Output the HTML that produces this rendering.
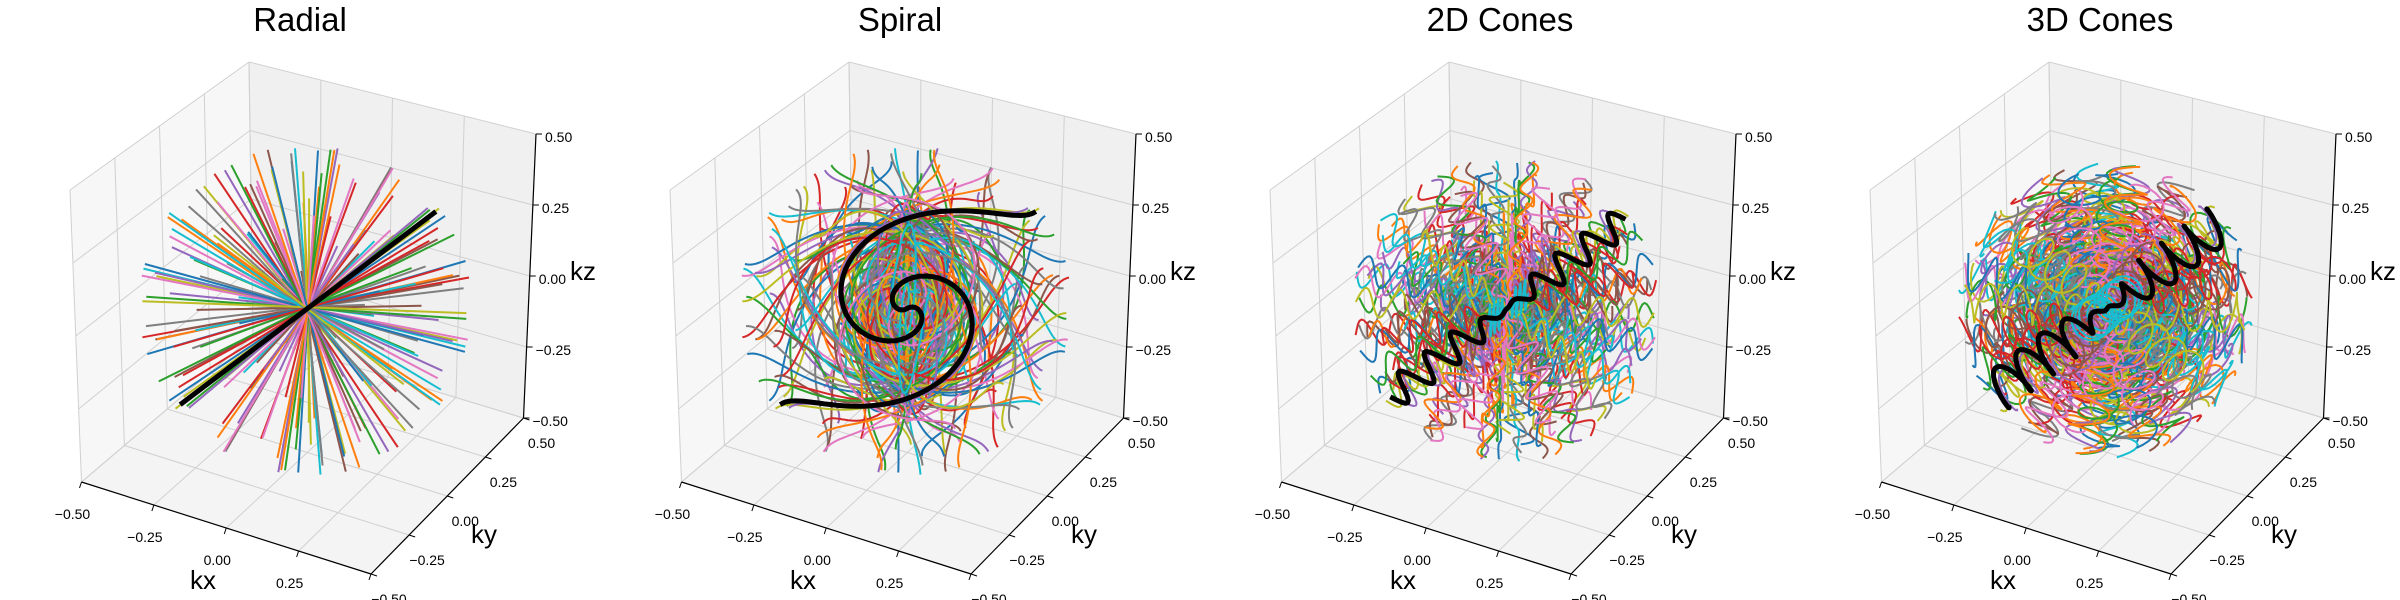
<!DOCTYPE html>
<html>
<head>
<meta charset="utf-8">
<style>
  html,body{margin:0;padding:0;background:#fff;}
  #chart{display:block;width:2400px;height:600px;overflow:hidden;}
  .title{font-family:"Liberation Sans",sans-serif;font-size:33px;fill:#000;text-anchor:middle;}
  .axlab{font-family:"Liberation Sans",sans-serif;font-size:26px;fill:#000;}
  .tick{font-family:"Liberation Sans",sans-serif;font-size:14px;fill:#000;}
</style>
</head>
<body>
<svg id="chart" xmlns="http://www.w3.org/2000/svg" width="2400" height="600" viewBox="0 0 2400 600">
  <g id="panel-0" transform="translate(0,0)">
    <g class="frame"></g><g class="marks"></g><g class="ticks"></g>
    <text class="title" x="300" y="31">Radial</text>
    <text class="axlab" x="190" y="589">kx</text>
    <text class="axlab" x="471" y="543">ky</text>
    <text class="axlab" x="570" y="280">kz</text>
  </g>
  <g id="panel-1" transform="translate(600,0)">
    <g class="frame"></g><g class="marks"></g><g class="ticks"></g>
    <text class="title" x="300" y="31">Spiral</text>
    <text class="axlab" x="190" y="589">kx</text>
    <text class="axlab" x="471" y="543">ky</text>
    <text class="axlab" x="570" y="280">kz</text>
  </g>
  <g id="panel-2" transform="translate(1200,0)">
    <g class="frame"></g><g class="marks"></g><g class="ticks"></g>
    <text class="title" x="300" y="31">2D Cones</text>
    <text class="axlab" x="190" y="589">kx</text>
    <text class="axlab" x="471" y="543">ky</text>
    <text class="axlab" x="570" y="280">kz</text>
  </g>
  <g id="panel-3" transform="translate(1800,0)">
    <g class="frame"></g><g class="marks"></g><g class="ticks"></g>
    <text class="title" x="300" y="31">3D Cones</text>
    <text class="axlab" x="190" y="589">kx</text>
    <text class="axlab" x="471" y="543">ky</text>
    <text class="axlab" x="570" y="280">kz</text>
  </g>
</svg>
<script>
// ---- data ----
const AZIMUTH_DEG = [0,137,275,52,190,328,105,242,20,157,295,72,210,347,125,262,40,177,315,92,230,7,145,282,60,197,335,112,250,27,165,302,80,217,355,132,270,47,185,322,100,237,15,152,290,67,205,342,120,257,35,172,310,87,225,2,140,277,55,192,330,107,245,22,160,297,75,212,350,127,265,42,180,317,95,232,10,147,285,62,200,337,115,252,30,167,305,82,220,357,135,272,50,187,325,102,240,17,155,292];
const ELEVATION_DEG = [-84,-76,-71,-67,-63,-60,-57,-54,-52,-49,-47,-45,-43,-41,-39,-37,-35,-33,-31,-30,-28,-26,-25,-23,-21,-20,-18,-17,-15,-14,-12,-11,-9,-8,-6,-5,-3,-2,-1,0,1,2,4,5,7,8,10,11,13,14,16,17,19,20,22,24,25,27,29,31,32,34,36,38,40,42,44,46,48,51,53,56,59,62,65,69,73,78,85,-36,12,-58,27,-5,44,-22,63,-40,8,-15,33,-70,19,-28,50,-9,70,-48,3,24];
const HIGHLIGHT_DIR = [0.64, 0.44, 0.64];
const KMAX = [0.5];
const TICK_VALUES = [-0.5,-0.25,0,0.25,0.5];
const TICK_LABELS = ['\u22120.50','\u22120.25','0.00','0.25','0.50'];
const COLORS = ['#1f77b4','#ff7f0e','#2ca02c','#d62728','#9467bd','#8c564b','#e377c2','#7f7f7f','#bcbd22','#17becf'];

// ---- projection (trilinear from box corners, panel-local px) ----
const P = {
  '000':[81.5,482],'100':[371,574],'110':[523.5,418],'010':[253,336],
  '001':[70,190],'101':[373,272],'111':[536,134],'011':[249,62]
};
function proj(x,y,z){
  const fx=x+0.5, fy=y+0.5, fz=z+0.5;
  let r=[0,0];
  for(const i of [0,1]) for(const j of [0,1]) for(const k of [0,1]){
    const w=(i?fx:1-fx)*(j?fy:1-fy)*(k?fz:1-fz);
    const c=P[''+i+j+k];
    r[0]+=w*c[0]; r[1]+=w*c[1];
  }
  return r;
}
const NS='http://www.w3.org/2000/svg';
function mk(tag,attrs,parent){
  const e=document.createElementNS(NS,tag);
  for(const k in attrs) e.setAttribute(k,attrs[k]);
  parent.appendChild(e); return e;
}
function ptsStr(pts){return pts.map(p=>{const q=proj(p[0],p[1],p[2]);return q[0].toFixed(1)+','+q[1].toFixed(1);}).join(' ');}
function norm(v){const l=Math.hypot(v[0],v[1],v[2])||1;return [v[0]/l,v[1]/l,v[2]/l];}
function cross(a,b){return [a[1]*b[2]-a[2]*b[1],a[2]*b[0]-a[0]*b[2],a[0]*b[1]-a[1]*b[0]];}
function basis(d){
  let w=[-d[2]*d[0],-d[2]*d[1],1-d[2]*d[2]];
  if(Math.hypot(w[0],w[1],w[2])<0.15) w=[1-d[0]*d[0],-d[0]*d[1],-d[0]*d[2]];
  w=norm(w);
  return [w, norm(cross(d,w))];
}
function dirOf(i){
  const a=AZIMUTH_DEG[i]*Math.PI/180, e=ELEVATION_DEG[i]*Math.PI/180;
  return [Math.cos(e)*Math.cos(a), Math.cos(e)*Math.sin(a), Math.sin(e)];
}

// trajectory generators: t in [-1,1]
function trajectory(kind,d,N){
  const [w1,w2]=basis(d); const R=KMAX[0]; const pts=[];
  for(let n=0;n<=N;n++){
    const t=-1+2*n/N, s=Math.abs(t), sg=t<0?-1:1;
    let p;
    if(kind==='radial'){ p=[d[0]*R*t,d[1]*R*t,d[2]*R*t]; }
    else if(kind==='spiral'){
      const r=R*s, ph=2*Math.PI*(1-s)*(1-s);
      const c=Math.cos(ph)*r*sg, sn=Math.sin(ph)*r*sg;
      p=[d[0]*c+w1[0]*sn, d[1]*c+w1[1]*sn, d[2]*c+w1[2]*sn];
    }
    else if(kind==='cones2d'){
      const A=0.05*Math.min(1,s*3)*Math.sin(2*Math.PI*4.5*t);
      p=[d[0]*R*t*0.92+w1[0]*A, d[1]*R*t*0.92+w1[1]*A, d[2]*R*t*0.92+w1[2]*A];
    }
    else {
      const A=0.06*Math.min(1,s*3), ps=2*Math.PI*5*s;
      const a=A*Math.cos(ps)*sg, b=A*Math.sin(ps)*sg;
      p=[d[0]*R*t*0.88+w1[0]*a+w2[0]*b, d[1]*R*t*0.88+w1[1]*a+w2[1]*b, d[2]*R*t*0.88+w1[2]*a+w2[2]*b];
    }
    pts.push(p);
  }
  return pts;
}

const KINDS=['radial','spiral','cones2d','cones3d'];
const STEPS={radial:1,spiral:120,cones2d:140,cones3d:180};

KINDS.forEach((kind,pi)=>{
  const panel=document.getElementById('panel-'+pi);
  const frame=panel.querySelector('.frame');
  const marks=panel.querySelector('.marks');
  const ticks=panel.querySelector('.ticks');
  const paneL=mk('polygon',{points:ptsStr([[-.5,-.5,-.5],[-.5,.5,-.5],[-.5,.5,.5],[-.5,-.5,.5]]),fill:'#f7f7f7',stroke:'none'},frame);
  
  
  const paneB=mk('polygon',{points:ptsStr([[-.5,.5,-.5],[.5,.5,-.5],[.5,.5,.5],[-.5,.5,.5]]),fill:'#f0f0f0',stroke:'none'},frame);
  
  
  const paneF=mk('polygon',{points:ptsStr([[-.5,-.5,-.5],[.5,-.5,-.5],[.5,.5,-.5],[-.5,.5,-.5]]),fill:'#f4f4f4',stroke:'none'},frame);
  
  
  TICK_VALUES.forEach(v=>{
    const segs=[
      [[-.5,v,-.5],[-.5,v,.5]],[[-.5,-.5,v],[-.5,.5,v]],
      [[v,.5,-.5],[v,.5,.5]],[[-.5,.5,v],[.5,.5,v]],
      [[v,-.5,-.5],[v,.5,-.5]],[[-.5,v,-.5],[.5,v,-.5]]
    ];
    segs.forEach(sg=>{
      const g=mk('polyline',{points:ptsStr(sg),fill:'none',stroke:'#d0d0d0','stroke-width':1},frame);
      
      
    });
  });
  [[[-.5,-.5,-.5],[.5,-.5,-.5],'kx-axis-line'],[[.5,-.5,-.5],[.5,.5,-.5],'ky-axis-line'],[[.5,.5,-.5],[.5,.5,.5],'kz-axis-line']].forEach(a=>{
    const l=mk('polyline',{points:ptsStr([a[0],a[1]]),fill:'none',stroke:'#000','stroke-width':1.2},frame);
    
    
  });
  TICK_VALUES.forEach((v,i)=>{
    const px=proj(v,-.5,-.5), py=proj(.5,v,-.5), pz=proj(.5,.5,v);
    const tx=mk('line',{x1:px[0],y1:px[1],x2:px[0]-2,y2:px[1]+6,stroke:'#000','stroke-width':1},ticks);
    
    
    const ty=mk('line',{x1:py[0],y1:py[1],x2:py[0]+6,y2:py[1]+2,stroke:'#000','stroke-width':1},ticks);
    
    
    const tz=mk('line',{x1:pz[0],y1:pz[1],x2:pz[0]+6,y2:pz[1],stroke:'#000','stroke-width':1},ticks);
    
    
    const lx=mk('text',{class:'tick',x:px[0]-9,y:px[1]+37,'text-anchor':'middle'},ticks);
    lx.textContent=TICK_LABELS[i];
    
    
    const ly=mk('text',{class:'tick',x:py[0]+18,y:py[1]+30,'text-anchor':'middle'},ticks);
    ly.textContent=TICK_LABELS[i];
    
    
    const lz=mk('text',{class:'tick',x:pz[0]+9,y:pz[1]+8,'text-anchor':'start'},ticks);
    lz.textContent=TICK_LABELS[i];
    
    
  });
  for(let i=0;i<AZIMUTH_DEG.length;i++){
    const d=dirOf(i);
    const pl=mk('polyline',{points:ptsStr(trajectory(kind,d,STEPS[kind])),fill:'none',stroke:COLORS[i%10],'stroke-width':2,'stroke-linejoin':'round'},marks);
    
    
  }
  const hb=mk('polyline',{points:ptsStr(trajectory(kind,norm(HIGHLIGHT_DIR),STEPS[kind])),fill:'none',stroke:'#000','stroke-width':5,'stroke-linejoin':'round'},marks);
  
  
});
</script>
</body>
</html>
